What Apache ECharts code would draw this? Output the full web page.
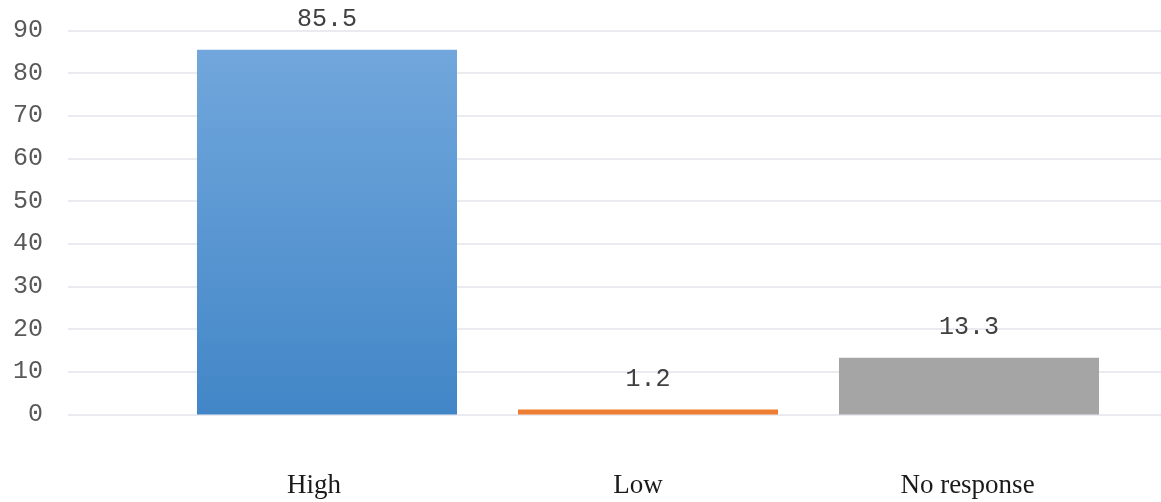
<!DOCTYPE html>
<html>
<head>
<meta charset="utf-8">
<script src="https://cdn.jsdelivr.net/npm/echarts@6/dist/echarts.min.js"></script>
<style>html,body{margin:0;padding:0;background:#fff;}#c{width:1161px;height:502px;}</style>
</head>
<body>
<div id="c"></div>
<script>
const categories = ['High', 'Low', 'No response'];
const values = [85.5, 1.2, 13.3];
const yTicks = { min: 0, max: 90, interval: 10 };

const barColors = [
  new echarts.graphic.LinearGradient(0, 0, 0, 1, [
    { offset: 0, color: '#71a7dc' },
    { offset: 1, color: '#4286c7' }
  ]),
  '#ed7d31',
  '#a5a5a5'
];

const labelStyle = { fontFamily: 'Liberation Serif', fontSize: 27, color: '#1a1a1a' };
const rich = {
  c0: Object.assign({ padding: [0, 26, 0, 0] }, labelStyle),
  c1: Object.assign({ padding: [0, 20, 0, 0] }, labelStyle),
  c2: Object.assign({ padding: [0, 3, 0, 0] }, labelStyle)
};

const chart = echarts.init(document.getElementById('c'), null, { renderer: 'canvas' });
const gridTop = 30.5, gridBottom = 87.5;
chart.setOption({
  animation: false,
  backgroundColor: '#ffffff',
  grid: [
    { left: 68, right: 0, top: gridTop, bottom: gridBottom },
    { left: 166.5, right: 31.5, top: gridTop, bottom: gridBottom }
  ],
  xAxis: [
    { gridIndex: 0, type: 'value', min: 0, max: 1, show: false },
    {
      gridIndex: 1, type: 'category', data: categories,
      axisLine: { show: false }, axisTick: { show: false },
      axisLabel: Object.assign({
        margin: 58,
        rich: rich,
        formatter: (v, i) => '{c' + i + '|' + v + '}'
      }, labelStyle)
    }
  ],
  yAxis: [
    {
      gridIndex: 0, type: 'value', min: yTicks.min, max: yTicks.max, interval: yTicks.interval,
      axisLine: { show: false }, axisTick: { show: false },
      axisLabel: { margin: 25, fontFamily: 'Liberation Mono', fontSize: 25, color: '#595959' },
      splitLine: { lineStyle: { color: '#e9ebf1', width: 2 } }
    },
    {
      gridIndex: 1, type: 'value', min: yTicks.min, max: yTicks.max, interval: yTicks.interval,
      show: false, splitLine: { show: false }
    }
  ],
  series: [{
    type: 'bar',
    xAxisIndex: 1, yAxisIndex: 1,
    barCategoryGap: '19%',
    data: values.map((v, i) => ({ value: v, itemStyle: { color: barColors[i] } })),
    label: {
      show: true, position: 'top', distance: 18,
      fontFamily: 'Liberation Mono', fontSize: 25, color: '#404040'
    }
  }]
});
</script>
</body>
</html>
